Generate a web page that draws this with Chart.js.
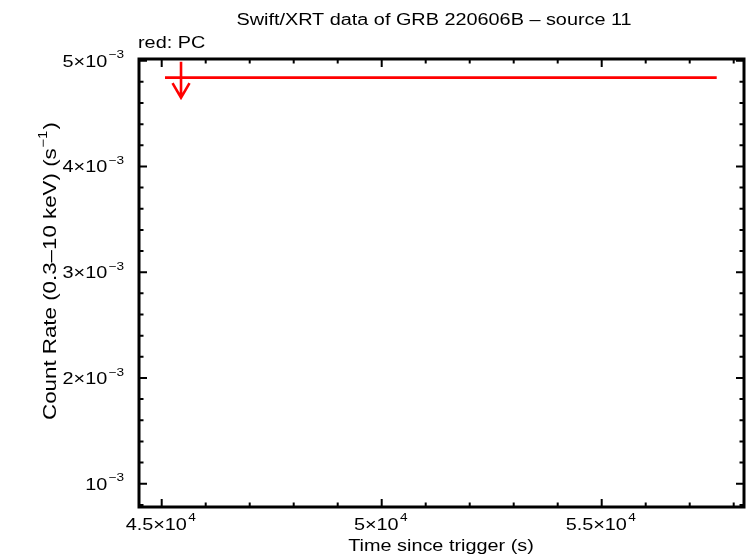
<!DOCTYPE html>
<html>
<head>
<meta charset="utf-8">
<script src="https://cdn.jsdelivr.net/npm/chart.js@4/dist/chart.umd.min.js"></script>
<style>
  html, body { margin: 0; padding: 0; background: #ffffff; }
  canvas { display: block; }
</style>
</head>
<body>
<canvas id="chart" width="746" height="558"></canvas>
<script>
// upper limit (PC mode)
const timeValues = [45439];
const timeLow = [45075];
const timeHigh = [57614];
const rateValues = [4.84e-3];
const rateArrowTop = [4.99e-3];
const rateArrowTip = [4.65e-3];

const xTicks = [45000, 50000, 55000];
const xTickLabels = ['4.5×10^4', '5×10^4', '5.5×10^4'];
const yTicks = [1e-3, 2e-3, 3e-3, 4e-3, 5e-3];
const yTickLabels = ['10^−3', '2×10^−3', '3×10^−3', '4×10^−3', '5×10^−3'];

const FONT = '"Liberation Sans", Arial, Helvetica, sans-serif';
const SIZE = 16;
const SX = 1.24; // the original lettering is wider than Liberation Sans

// draws "base^exp" with a raised, smaller exponent, stretched horizontally
function drawSup(ctx, text, x, y, align, size) {
    const parts = text.split('^');
    const base = parts[0];
    const exp = parts[1] || '';
    const esize = Math.round(size * 0.7);
    ctx.font = size + 'px ' + FONT;
    const wb = ctx.measureText(base).width;
    ctx.font = esize + 'px ' + FONT;
    const we = ctx.measureText(exp).width;
    let x0 = 0;
    if (align === 'center') x0 = -(wb + we + 1) / 2;
    if (align === 'right') x0 = -(wb + we + 1);
    ctx.save();
    ctx.translate(x, y);
    ctx.scale(SX, 1);
    ctx.textAlign = 'left';
    ctx.textBaseline = 'alphabetic';
    ctx.font = size + 'px ' + FONT;
    ctx.fillText(base, x0, 0);
    ctx.font = esize + 'px ' + FONT;
    ctx.fillText(exp, x0 + wb + 1, -size * 0.52);
    ctx.restore();
}

function drawText(ctx, text, x, y, align) {
    ctx.save();
    ctx.translate(x, y);
    ctx.scale(SX, 1);
    ctx.font = SIZE + 'px ' + FONT;
    ctx.textAlign = align;
    ctx.textBaseline = 'alphabetic';
    ctx.fillText(text, 0, 0);
    ctx.restore();
}

const framePlugin = {
    id: 'frame',
    afterDraw: (chart) => {
        const ctx = chart.ctx;
        const a = chart.chartArea;
        const xs = chart.scales.x;
        const ys = chart.scales.y;
        ctx.save();
        ctx.strokeStyle = '#000000';
        ctx.fillStyle = '#000000';

        // inward ticks on all four sides
        ctx.lineWidth = 2;
        ctx.beginPath();
        for (let v = 45000; v <= xs.max; v += 1000) {
            const px = xs.getPixelForValue(v);
            const len = v % 5000 === 0 ? 8 : 4.5;
            ctx.moveTo(px, a.bottom); ctx.lineTo(px, a.bottom - len);
            ctx.moveTo(px, a.top); ctx.lineTo(px, a.top + len);
        }
        for (let i = 4; i <= 25; i++) {
            const v = i * 0.2e-3;
            const py = ys.getPixelForValue(v);
            if (py < a.top || py > a.bottom) continue;
            const len = i % 5 === 0 ? 8 : 4.5;
            ctx.moveTo(a.left, py); ctx.lineTo(a.left + len, py);
            ctx.moveTo(a.right, py); ctx.lineTo(a.right - len, py);
        }
        ctx.stroke();

        ctx.lineWidth = 3;
        ctx.strokeRect(a.left, a.top, a.right - a.left, a.bottom - a.top);

        // tick labels
        xTicks.forEach((v, i) => {
            drawSup(ctx, xTickLabels[i], xs.getPixelForValue(v) - 1, a.bottom + 22.5, 'center', SIZE);
        });
        yTicks.forEach((v, i) => {
            drawSup(ctx, yTickLabels[i], a.left - 15, ys.getPixelForValue(v) + 6, 'right', SIZE);
        });

        // titles
        drawText(ctx, 'Swift/XRT data of GRB 220606B \u2013 source 11', 434, 24.5, 'center');
        drawText(ctx, 'Time since trigger (s)', 441, 551, 'center');
        drawText(ctx, 'red: PC', 138, 48.3, 'left');

        ctx.save();
        ctx.translate(55.5, 271);
        ctx.rotate(-Math.PI / 2);
        ctx.scale(SX, 1);
        const ys1 = 18;
        ctx.font = ys1 + 'px ' + FONT;
        const t1 = 'Count Rate (0.3\u201310 keV) (s';
        const w1 = ctx.measureText(t1).width;
        ctx.font = '12px ' + FONT;
        const w2 = ctx.measureText('\u22121').width;
        ctx.font = ys1 + 'px ' + FONT;
        const w3 = ctx.measureText(')').width;
        const x0 = -(w1 + w2 + w3 + 1.5) / 2;
        ctx.textAlign = 'left';
        ctx.fillText(t1, x0, 0);
        ctx.font = '12px ' + FONT;
        ctx.fillText('\u22121', x0 + w1 + 0.5, -8.5);
        ctx.font = ys1 + 'px ' + FONT;
        ctx.fillText(')', x0 + w1 + w2 + 1.5, 0);
        ctx.restore();

        ctx.restore();
    }
};

const limitPlugin = {
    id: 'upperLimits',
    afterDatasetsDraw: (chart) => {
        const ctx = chart.ctx;
        const xs = chart.scales.x;
        const ys = chart.scales.y;
        ctx.save();
        ctx.strokeStyle = '#ff0000';
        ctx.lineWidth = 2.6;
        ctx.lineCap = 'butt';
        timeValues.forEach((t, i) => {
            const px = xs.getPixelForValue(t);
            const py = ys.getPixelForValue(rateValues[i]);
            const top = ys.getPixelForValue(rateArrowTop[i]);
            const tip = ys.getPixelForValue(rateArrowTip[i]);
            ctx.beginPath();
            ctx.moveTo(xs.getPixelForValue(timeLow[i]), py);
            ctx.lineTo(xs.getPixelForValue(timeHigh[i]), py);
            ctx.moveTo(px, top);
            ctx.lineTo(px, tip);
            ctx.moveTo(px - 8.5, tip - 14.5);
            ctx.lineTo(px, tip);
            ctx.lineTo(px + 8.5, tip - 14.5);
            ctx.stroke();
        });
        ctx.restore();
    }
};

const ctx = document.getElementById('chart').getContext('2d');
new Chart(ctx, {
    type: 'scatter',
    data: {
        datasets: [{
            label: 'PC',
            data: timeValues.map((t, i) => ({ x: t, y: rateValues[i] })),
            pointRadius: 0,
            borderColor: '#ff0000',
            backgroundColor: '#ff0000'
        }]
    },
    options: {
        responsive: false,
        animation: false,
        layout: { padding: { top: 59, right: 2, left: 0, bottom: 0 } },
        plugins: {
            legend: { display: false },
            tooltip: { enabled: false },
            title: { display: false }
        },
        scales: {
            x: {
                type: 'linear',
                min: 44484,
                max: 58234,
                grid: { display: false },
                border: { display: false },
                ticks: { display: false },
                afterFit: (s) => { s.height = 51; }
            },
            y: {
                type: 'linear',
                min: 0.00078,
                max: 0.005016,
                grid: { display: false },
                border: { display: false },
                ticks: { display: false },
                afterFit: (s) => { s.width = 139; }
            }
        }
    },
    plugins: [limitPlugin, framePlugin]
});
</script>
</body>
</html>
